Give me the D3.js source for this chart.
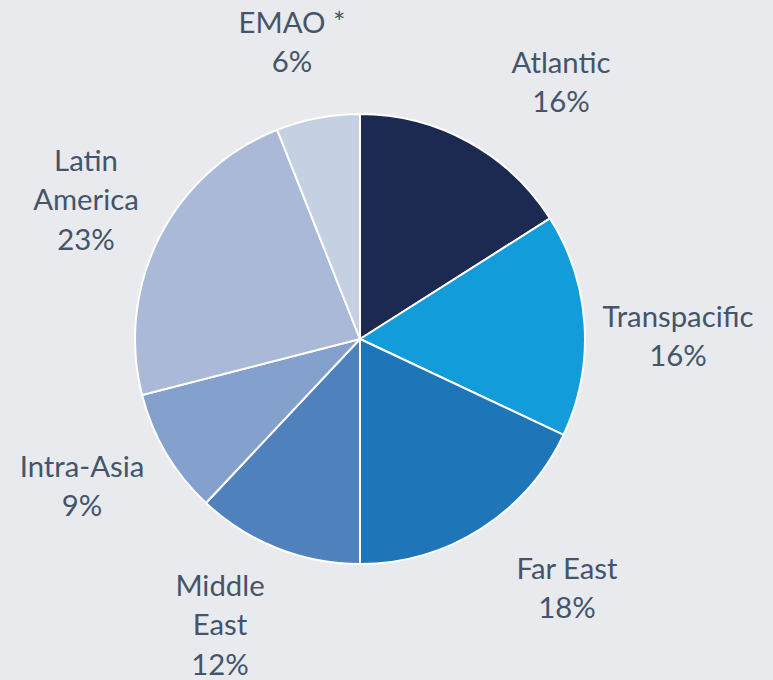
<!DOCTYPE html>
<html>
<head>
<meta charset="utf-8">
<script src="https://cdn.jsdelivr.net/npm/d3@7/dist/d3.min.js"></script>
<style>
  html, body { margin: 0; padding: 0; background: #e8eaed; }
  svg { display: block; }
</style>
</head>
<body>
<svg id="chart" width="773" height="680"></svg>
<script>
// Share of trade by region (%)
const regions = ["Atlantic", "Transpacific", "Far East", "Middle East", "Intra-Asia", "Latin America", "EMAO *"];
const shares  = [16, 16, 18, 12, 9, 23, 6];
const colors  = ["#1c2a52", "#139cda", "#1e76b9", "#4f81bd", "#84a0cc", "#aab9d8", "#c5d0e3"];

// Label text lines and centre positions (label layout)
const labelLines = [
  ["Atlantic"], ["Transpacific"], ["Far East"], ["Middle", "East"],
  ["Intra-Asia"], ["Latin", "America"], ["EMAO *"]
];
const labelPos = [
  [561, 82], [678, 336], [567, 588], [220, 625],
  [82, 486], [86, 200], [292, 42]
];

const W = 773, H = 680;
const cx = 360, cy = 339, radius = 225;
const lineH = 39.5;

const svg = d3.select("#chart");
svg.append("rect").attr("width", W).attr("height", H).attr("fill", "#e8eaed");

const pie = d3.pie().sort(null).value(d => d.value);
const arc = d3.arc().innerRadius(0).outerRadius(radius);

const data = regions.map((r, i) => ({ name: r, value: shares[i], color: colors[i] }));
const arcs = pie(data);

const g = svg.append("g").attr("transform", `translate(${cx},${cy})`);
g.selectAll("path")
  .data(arcs)
  .join("path")
  .attr("d", arc)
  .attr("fill", d => d.data.color)
  .attr("stroke", "#ffffff")
  .attr("stroke-width", 2)
  .attr("stroke-linejoin", "round");

const labels = svg.append("g")
  .attr("font-family", "Lato, 'Open Sans', sans-serif")
  .attr("font-size", 29.3)
  .attr("fill", "#44546a")
  .attr("text-anchor", "middle");

arcs.forEach((a, i) => {
  const lines = labelLines[i].concat([d3.format(".0f")(a.data.value) + "%"]);
  const [lx, ly] = labelPos[i];
  const top = ly - (lines.length - 1) * lineH / 2;
  const t = labels.append("text");
  lines.forEach((ln, k) => {
    t.append("tspan")
      .attr("x", lx)
      .attr("y", top + k * lineH)
      .attr("dy", "0.35em")
      .text(ln);
  });
});
</script>
</body>
</html>
